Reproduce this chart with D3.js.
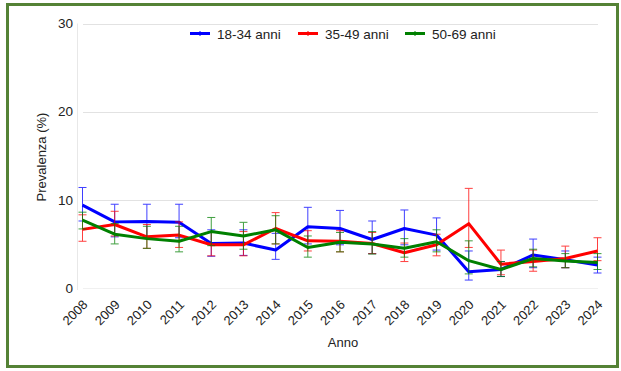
<!DOCTYPE html>
<html>
<head>
<meta charset="utf-8">
<script src="https://cdn.jsdelivr.net/npm/d3@7"></script>
<style>
  html, body { margin: 0; padding: 0; background: #fff; }
  svg { display: block; font-family: "Liberation Sans", Arial, sans-serif; }
</style>
</head>
<body>
<svg id="chart" width="621" height="371"></svg>
<script>
// Prevalence by age group, 2008-2024, with confidence intervals
const years = [2008, 2009, 2010, 2011, 2012, 2013, 2014, 2015, 2016, 2017, 2018, 2019, 2020, 2021, 2022, 2023, 2024];
const seriesNames = ["18-34 anni", "35-49 anni", "50-69 anni"];
const seriesColors = ["#0000ff", "#ff0000", "#008000"];

const young = [9.4, 7.5, 7.55, 7.45, 5.05, 5.1, 4.3, 6.95, 6.75, 5.5, 6.75, 6.0, 1.85, 2.1, 3.75, 3.2, 2.6];
const youngLow = [7.6, 5.8, 5.8, 5.7, 3.6, 3.7, 3.25, 5.0, 4.9, 3.9, 4.9, 4.3, 0.9, 1.3, 2.3, 2.3, 1.7];
const youngHigh = [11.4, 9.5, 9.5, 9.5, 6.6, 6.6, 6.2, 9.15, 8.8, 7.6, 8.85, 7.95, 4.2, 3.0, 5.55, 4.2, 3.5];

const middle = [6.65, 7.2, 5.8, 6.0, 4.9, 4.9, 6.75, 5.35, 5.3, 5.05, 4.0, 4.9, 7.3, 2.7, 3.0, 3.35, 4.2];
const middleLow = [5.3, 5.9, 4.5, 4.6, 3.65, 3.65, 5.0, 4.2, 4.1, 3.9, 3.0, 3.65, 4.6, 1.5, 1.9, 2.3, 3.1];
const middleHigh = [8.3, 8.7, 7.2, 7.5, 6.3, 6.4, 8.55, 6.5, 6.5, 6.3, 5.1, 6.1, 11.3, 4.3, 4.3, 4.75, 5.7];

const senior = [7.7, 6.1, 5.6, 5.3, 6.4, 5.9, 6.6, 4.6, 5.2, 5.0, 4.5, 5.25, 3.1, 2.1, 3.35, 3.05, 2.9];
const seniorLow = [6.7, 5.0, 4.5, 4.1, 4.8, 4.4, 5.0, 3.5, 4.1, 3.85, 3.5, 4.1, 1.6, 1.3, 2.4, 2.3, 2.1];
const seniorHigh = [8.6, 7.3, 7.0, 7.0, 8.0, 7.45, 8.2, 5.9, 6.3, 6.4, 5.6, 6.6, 5.35, 3.0, 4.4, 3.9, 3.9];

const yTicks = [0, 10, 20, 30];

const series = [
  { name: seriesNames[0], color: seriesColors[0], v: young, lo: youngLow, hi: youngHigh },
  { name: seriesNames[1], color: seriesColors[1], v: middle, lo: middleLow, hi: middleHigh },
  { name: seriesNames[2], color: seriesColors[2], v: senior, lo: seniorLow, hi: seniorHigh }
];

const svg = d3.select("#chart");

// outer frame
svg.append("rect")
  .attr("x", 7.5).attr("y", 4.5).attr("width", 610).attr("height", 362)
  .attr("fill", "#fff").attr("stroke", "#548235").attr("stroke-width", 3);

const x = d3.scaleLinear().domain([2008, 2024]).range([82.5, 597.5]);
const y = d3.scaleLinear().domain([0, 30]).range([288, 23.5]);

// gridlines
svg.append("g").selectAll("line").data(yTicks).join("line")
  .attr("x1", 83).attr("x2", 598)
  .attr("y1", d => Math.round(y(d)) + 0.5).attr("y2", d => Math.round(y(d)) + 0.5)
  .attr("stroke", d => d === 0 ? "#f0f0f0" : "#e2e2e2").attr("stroke-width", 1);

// faint vertical axis line
svg.append("line")
  .attr("x1", 77.5).attr("x2", 77.5).attr("y1", y(30)).attr("y2", y(0) + 2)
  .attr("stroke", "#e8e8e8");

// y axis labels
const yAxis = d3.axisLeft(y).tickValues(yTicks).tickSize(0).tickPadding(0).tickFormat(d3.format("d"));
const gy = svg.append("g").attr("transform", "translate(73,0)").call(yAxis);
gy.select(".domain").remove();
gy.selectAll("text").attr("font-size", 13.5).attr("fill", "#222")
  .attr("font-family", "'Liberation Sans', Arial, sans-serif");

// x axis labels, rotated
const xAxis = d3.axisBottom(x).tickValues(years).tickSize(0).tickPadding(0).tickFormat(d3.format("d"));
const gx = svg.append("g").attr("transform", "translate(0,298)").call(xAxis);
gx.select(".domain").remove();
gx.selectAll("text")
  .attr("font-size", 13).attr("fill", "#222")
  .attr("font-family", "'Liberation Sans', Arial, sans-serif")
  .attr("text-anchor", "end")
  .attr("dy", "0.7em")
  .attr("transform", "translate(-1,1) rotate(-45)");

// axis titles
svg.append("text").attr("x", 343).attr("y", 347).attr("text-anchor", "middle")
  .attr("font-size", 13).attr("fill", "#222").text("Anno");
svg.append("text").attr("transform", "translate(46,157) rotate(-90)").attr("text-anchor", "middle")
  .attr("font-size", 13).attr("fill", "#222").text("Prevalenza (%)");

// series: intervals and lines
const line = d3.line().x((d, i) => x(years[i])).y(d => y(d));
series.forEach(s => {
  const g = svg.append("g");
  const iv = g.append("g").attr("stroke", s.color).attr("stroke-width", 1).attr("opacity", 0.75);
  years.forEach((yr, i) => {
    const cx = x(yr);
    iv.append("line").attr("x1", cx).attr("x2", cx).attr("y1", y(s.hi[i])).attr("y2", y(s.lo[i]));
    iv.append("line").attr("x1", cx - 4).attr("x2", cx + 4).attr("y1", y(s.hi[i])).attr("y2", y(s.hi[i]));
    iv.append("line").attr("x1", cx - 4).attr("x2", cx + 4).attr("y1", y(s.lo[i])).attr("y2", y(s.lo[i]));
  });
  g.append("path").datum(s.v).attr("d", line)
    .attr("fill", "none").attr("stroke", s.color).attr("stroke-width", 3)
    .attr("stroke-linejoin", "round");
});

// legend
const legendX = [190, 298, 405];
const lg = svg.append("g");
series.forEach((s, i) => {
  const gx0 = legendX[i];
  lg.append("line").attr("x1", gx0).attr("x2", gx0 + 20).attr("y1", 33.5).attr("y2", 33.5)
    .attr("stroke", s.color).attr("stroke-width", 3);
  lg.append("line").attr("x1", gx0 + 10).attr("x2", gx0 + 10).attr("y1", 31).attr("y2", 36)
    .attr("stroke", s.color).attr("stroke-width", 1);
  lg.append("text").attr("x", gx0 + 27).attr("y", 38.5).attr("font-size", 13.5).attr("fill", "#222")
    .text(s.name);
});
</script>
</body>
</html>
